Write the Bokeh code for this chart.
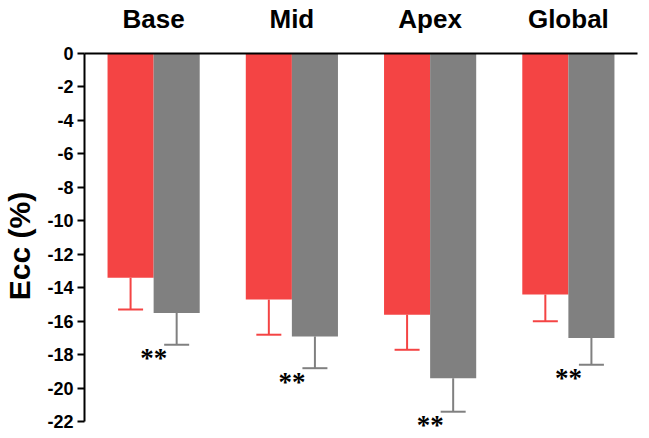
from bokeh.plotting import figure
from bokeh.models import (ColumnDataSource, FactorRange, Range1d, FixedTicker,
                          Whisker, TeeHead, LabelSet)
from bokeh.transform import dodge
from bokeh.embed import file_html
from bokeh.resources import INLINE

categories = ["Base", "Mid", "Apex", "Global"]
red_values = [-13.4, -14.7, -15.6, -14.4]
red_err = [-15.3, -16.8, -17.7, -16.0]
gray_values = [-15.5, -16.9, -19.4, -17.0]
gray_err = [-17.4, -18.8, -21.4, -18.6]
sig_labels = ["**", "**", "**", "**"]
y_ticks = [0, -2, -4, -6, -8, -10, -12, -14, -16, -18, -20, -22]

RED = "#F44444"
GRAY = "#808080"
FONT = "Liberation Sans"

src = ColumnDataSource(dict(
    cat=categories, red=red_values, red_err=red_err,
    gray=gray_values, gray_err=gray_err, sig=sig_labels,
    sig_y=[g - 0.8 for g in gray_err],
))

p = figure(x_range=FactorRange(*categories), y_range=Range1d(-23.0, 0),
           frame_width=553, frame_height=385,
           x_axis_location="above",
           output_backend="svg", toolbar_location=None,
           min_border_left=78, min_border_right=4,
           min_border_top=43, min_border_bottom=0)

p.vbar(x=dodge("cat", -1/6, range=p.x_range), top=0, bottom="red", width=1/3,
       source=src, fill_color=RED, line_color=None)
p.vbar(x=dodge("cat", 1/6, range=p.x_range), top=0, bottom="gray", width=1/3,
       source=src, fill_color=GRAY, line_color=None)

for col, err, color, off in [("red", "red_err", RED, -1/6), ("gray", "gray_err", GRAY, 1/6)]:
    w = Whisker(base=dodge("cat", off, range=p.x_range), upper=col, lower=err,
                source=src, dimension="height", line_color=color, line_width=2,
                lower_head=TeeHead(size=25, line_color=color, line_width=2),
                upper_head=None)
    p.add_layout(w)

labels = LabelSet(x="cat", y="sig_y", text="sig", source=src,
                  text_align="center", text_baseline="middle",
                  text_font=FONT, text_font_size="27px", text_font_style="bold",
                  text_color="black")
p.add_layout(labels)

p.xgrid.grid_line_color = None
p.ygrid.grid_line_color = None
p.outline_line_color = None
p.background_fill_color = "white"

xa = p.xaxis[0]
xa.axis_line_width = 2
xa.axis_line_color = "black"
xa.major_tick_line_color = None
xa.minor_tick_line_color = None
xa.major_label_text_font = FONT
xa.major_label_text_font_size = "26px"
xa.major_label_text_font_style = "bold"
xa.major_label_text_color = "black"
xa.major_label_standoff = 14

ya = p.yaxis[0]
ya.ticker = FixedTicker(ticks=y_ticks)
ya.bounds = (-22, 0)
ya.major_label_overrides = {t: str(t) for t in y_ticks}
ya.axis_line_width = 2
ya.axis_line_color = "black"
ya.major_tick_line_width = 2
ya.major_tick_line_color = "black"
ya.major_tick_out = 7
ya.major_tick_in = 0
ya.minor_tick_line_color = None
ya.major_label_text_font = FONT
ya.major_label_text_font_size = "18px"
ya.major_label_text_font_style = "bold"
ya.major_label_text_color = "black"
ya.major_label_standoff = 4
ya.axis_label = "Ecc (%)"
ya.axis_label_text_font = FONT
ya.axis_label_text_font_size = "30px"
ya.axis_label_text_font_style = "bold"
ya.axis_label_text_color = "black"
ya.axis_label_standoff = 8

open("out.html", "w").write(file_html(p, INLINE))
